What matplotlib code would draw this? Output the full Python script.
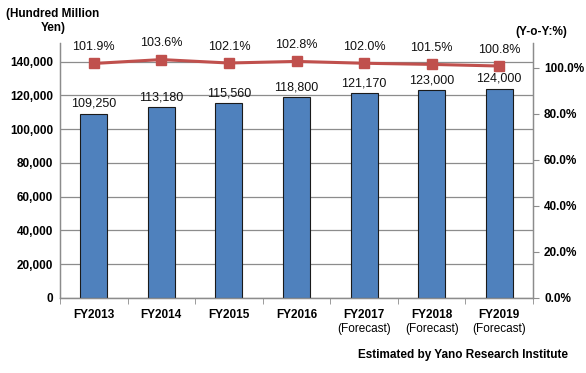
import matplotlib.pyplot as plt
import numpy as np

# data
years = ['FY2013', 'FY2014', 'FY2015', 'FY2016', 'FY2017', 'FY2018', 'FY2019']
forecast = ['', '', '', '', '(Forecast)', '(Forecast)', '(Forecast)']
market = [109250, 113180, 115560, 118800, 121170, 123000, 124000]
yoy = [101.9, 103.6, 102.1, 102.8, 102.0, 101.5, 100.8]

bar_color = '#4F81BD'
line_color = '#C0504D'
grid_color = '#8C8C8C'

plt.rcParams['font.family'] = ['Liberation Sans', 'DejaVu Sans']

fig = plt.figure(figsize=(5.86, 3.73), dpi=100)
ax = fig.add_axes([60/586, 1-298/373, (533-60)/586, (298-43)/373])
ax2 = ax.twinx()

x = np.arange(len(years))

# barras
ax.bar(x, market, width=0.4, color=bar_color, edgecolor='#1a1a1a', linewidth=0.8, zorder=3)
for xi, v in zip(x, market):
    ax.text(xi, v + 2200, f'{v:,}', ha='center', va='bottom', fontsize=9, color='#111111')

ax.set_xlim(-0.5, len(years) - 0.5)
ax.set_ylim(0, 151000)
ax.set_yticks(np.arange(0, 140001, 20000))
ax.set_yticklabels([f'{v:,}' for v in range(0, 140001, 20000)], fontsize=8.5, fontweight='bold')
ax.yaxis.grid(True, color=grid_color, linewidth=0.9, zorder=0)
ax.set_axisbelow(True)

ax.set_xticks(x)
ax.set_xticklabels(years, fontsize=8.5, fontweight='bold')
ax.set_xticks(np.arange(-0.5, len(years)), minor=True)
ax.tick_params(axis='x', which='major', length=0, pad=8)
ax.tick_params(axis='x', which='minor', length=4, color=grid_color)
ax.tick_params(axis='y', length=0, pad=5)

# segunda linha dos rótulos (previsão)
for xi, f in zip(x, forecast):
    if f:
        ax.annotate(f, xy=(xi, 0), xycoords=('data', 'axes fraction'), xytext=(0, -22),
                    textcoords='offset points', ha='center', va='center', fontsize=8.5)

# linha yoy
ax2.plot(x, yoy, color=line_color, linewidth=2.2, marker='s', markersize=7, zorder=5)
for xi, v in zip(x, yoy):
    ax2.text(xi, v + 4.5, f'{v:.1f}%', ha='center', va='bottom', fontsize=9, color='#111111')
ax2.set_ylim(0, 110.8)
ax2.set_yticks(np.arange(0, 101, 20))
ax2.set_yticklabels([f'{v:.1f}%' for v in range(0, 101, 20)], fontsize=8.5, fontweight='bold')
ax2.tick_params(axis='y', length=4, color=grid_color, pad=4)

for a in (ax, ax2):
    a.spines['top'].set_visible(False)
    for s in ('left', 'right', 'bottom'):
        a.spines[s].set_color(grid_color)
        a.spines[s].set_linewidth(0.9)

# textos
fig.text(53/586, 1-21/373, '(Hundred Million\nYen)', ha='center', va='center', fontsize=8.5, fontweight='bold', linespacing=1.25)
fig.text(541/586, 1-32/373, '(Y-o-Y:%)', ha='center', va='center', fontsize=8.5, fontweight='bold')
fig.text(568/586, 1-355/373, 'Estimated by Yano Research Institute', ha='right', va='center', fontsize=8.5, fontweight='bold')

fig.savefig('out.png', dpi=100)
